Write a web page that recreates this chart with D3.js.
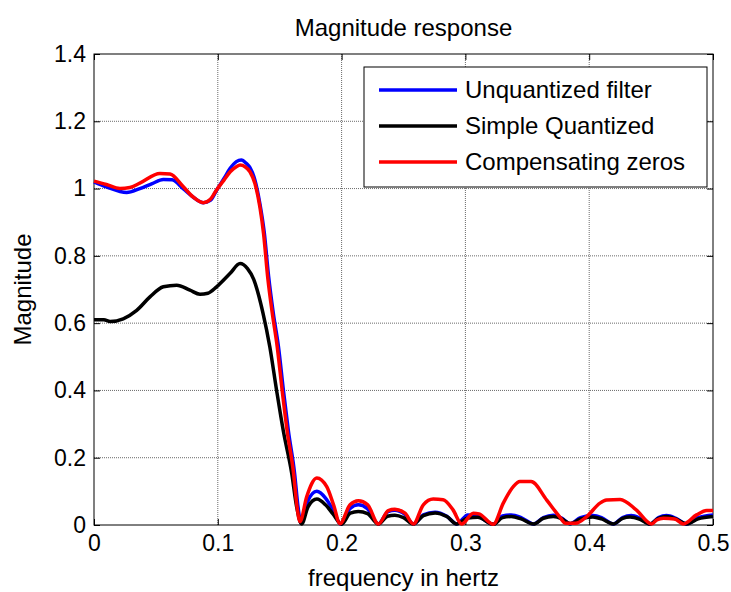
<!DOCTYPE html>
<html>
<head>
<meta charset="utf-8">
<title>Magnitude response</title>
<style>
  body { margin: 0; background: #fff; }
  svg { display: block; font-family: "Liberation Sans", Arial, sans-serif; }
  .grid line { stroke: #6a6a6a; stroke-width: 1; stroke-dasharray: 1,1; }
  .tick text { fill: #000; }
</style>
</head>
<body>
<svg id="chart" width="731" height="592"></svg>
<script src="https://cdn.jsdelivr.net/npm/d3@7"></script>
<script>
// frequency (Hz), magnitude
var unquantized = [
  [0,1.02],[0.01,1.005],[0.0264,0.988],[0.037,1.0],[0.047,1.015],[0.056,1.027],[0.063,1.026],
  [0.072,1.0],[0.08,0.975],[0.0883,0.958],[0.094,0.965],[0.099,0.995],[0.105,1.03],[0.11,1.06],
  [0.115,1.08],[0.119,1.085],[0.123,1.075],[0.126,1.062],[0.13,1.025],[0.134,0.955],[0.1375,0.87],
  [0.141,0.74],[0.1448,0.63],[0.149,0.53],[0.153,0.40],[0.157,0.28],[0.162,0.154],[0.1648,0.054],
  [0.1672,0.005],[0.1725,0.07],[0.18,0.1],[0.187,0.08],[0.193,0.045],[0.1995,0.002],[0.2065,0.048],
  [0.2135,0.06],[0.221,0.048],[0.2297,0.003],[0.2375,0.04],[0.243,0.044],[0.251,0.032],[0.258,0.003],
  [0.266,0.03],[0.2755,0.038],[0.285,0.026],[0.293,0.003],[0.302,0.03],[0.309,0.028],[0.3225,0.002],
  [0.33,0.027],[0.337,0.03],[0.345,0.022],[0.355,0.003],[0.363,0.022],[0.371,0.029],[0.378,0.02],
  [0.3845,0.004],[0.393,0.022],[0.403,0.028],[0.41,0.022],[0.4195,0.003],[0.427,0.022],[0.434,0.028],
  [0.441,0.02],[0.449,0.003],[0.456,0.022],[0.4625,0.028],[0.47,0.02],[0.4787,0.003],[0.488,0.022],
  [0.5,0.03]
];

var simpleQuantized = [
  [0,0.61],[0.008,0.61],[0.013,0.605],[0.0236,0.613],[0.0345,0.638],[0.0452,0.678],[0.056,0.708],
  [0.0668,0.713],[0.0775,0.698],[0.0856,0.686],[0.092,0.689],[0.099,0.708],[0.11,0.748],[0.118,0.777],
  [0.124,0.762],[0.129,0.73],[0.1365,0.63],[0.142,0.53],[0.1475,0.40],[0.1529,0.28],[0.1597,0.154],
  [0.1637,0.054],[0.1677,0.003],[0.173,0.055],[0.18,0.077],[0.187,0.06],[0.193,0.033],[0.2,0.002],
  [0.207,0.035],[0.2135,0.04],[0.221,0.034],[0.2297,0.003],[0.237,0.026],[0.243,0.029],[0.25,0.022],
  [0.258,0.003],[0.266,0.028],[0.2755,0.036],[0.285,0.025],[0.293,0.003],[0.302,0.021],[0.31,0.023],
  [0.3225,0.002],[0.33,0.022],[0.337,0.025],[0.345,0.018],[0.355,0.003],[0.363,0.02],[0.371,0.025],
  [0.378,0.018],[0.3845,0.004],[0.393,0.018],[0.403,0.024],[0.41,0.018],[0.4195,0.003],[0.427,0.02],
  [0.433,0.024],[0.441,0.017],[0.449,0.003],[0.456,0.02],[0.4625,0.025],[0.47,0.018],[0.4787,0.003],
  [0.488,0.018],[0.5,0.025]
];

var compensating = [
  [0,1.022],[0.01,1.012],[0.021,1.0],[0.029,1.003],[0.037,1.016],[0.0533,1.045],[0.0614,1.043],
  [0.072,1.006],[0.08,0.975],[0.0883,0.958],[0.094,0.968],[0.099,0.996],[0.105,1.025],[0.11,1.05],
  [0.115,1.065],[0.118,1.07],[0.122,1.065],[0.126,1.05],[0.13,1.015],[0.134,0.945],[0.137,0.865],
  [0.1405,0.73],[0.144,0.63],[0.148,0.53],[0.152,0.40],[0.156,0.28],[0.1612,0.154],[0.164,0.054],
  [0.1664,0.01],[0.1718,0.084],[0.18,0.14],[0.188,0.114],[0.1935,0.06],[0.1987,0.004],[0.2068,0.06],
  [0.2135,0.072],[0.2211,0.06],[0.2297,0.003],[0.2377,0.043],[0.243,0.047],[0.2512,0.035],[0.258,0.003],
  [0.266,0.06],[0.274,0.077],[0.282,0.075],[0.29,0.045],[0.297,0.003],[0.3064,0.035],[0.311,0.033],
  [0.3225,0.002],[0.3306,0.065],[0.3387,0.114],[0.344,0.129],[0.353,0.129],[0.3657,0.074],[0.376,0.025],
  [0.381,0.005],[0.389,0.005],[0.398,0.025],[0.4087,0.065],[0.414,0.074],[0.425,0.076],[0.438,0.045],
  [0.4505,0.003],[0.4545,0.015],[0.46,0.02],[0.469,0.018],[0.476,0.003],[0.4867,0.03],[0.495,0.043],
  [0.5,0.043]
];

var seriesNames = ["Unquantized filter", "Simple Quantized", "Compensating zeros"];
var seriesColors = ["#0000ff", "#000000", "#ff0000"];
var xTicks = [0, 0.1, 0.2, 0.3, 0.4, 0.5];
var yTicks = [0, 0.2, 0.4, 0.6, 0.8, 1, 1.2, 1.4];

var margin = {left: 94, right: 18, top: 54, bottom: 67};
var W = 731, H = 592;
var iw = W - margin.left - margin.right;
var ih = H - margin.top - margin.bottom;

var svg = d3.select("#chart");
var g = svg.append("g").attr("transform", "translate(" + margin.left + "," + margin.top + ")");

var x = d3.scaleLinear().domain([0, 0.5]).range([0, iw]);
var y = d3.scaleLinear().domain([0, 1.4]).range([ih, 0]);

// grid
g.append("g").attr("class", "grid")
  .selectAll("line.v").data(xTicks.slice(1, -1)).enter().append("line")
  .attr("x1", function(d) { return x(d); }).attr("x2", function(d) { return x(d); })
  .attr("y1", 0).attr("y2", ih);
g.append("g").attr("class", "grid")
  .selectAll("line.h").data(yTicks.slice(1, -1)).enter().append("line")
  .attr("y1", function(d) { return y(d); }).attr("y2", function(d) { return y(d); })
  .attr("x1", 0).attr("x2", iw);

var fmt = d3.format("~g");

g.append("g").attr("transform", "translate(0," + ih + ")")
  .call(d3.axisBottom(x).tickValues(xTicks).tickFormat(fmt).tickSizeInner(-6).tickSizeOuter(0).tickPadding(10));
g.append("g")
  .call(d3.axisLeft(y).tickValues(yTicks).tickFormat(fmt).tickSizeInner(-6).tickSizeOuter(0).tickPadding(8));
g.append("g")
  .call(d3.axisTop(x).tickValues(xTicks).tickFormat("").tickSizeInner(-6).tickSizeOuter(0));
g.append("g").attr("transform", "translate(" + iw + ",0)")
  .call(d3.axisRight(y).tickValues(yTicks).tickFormat("").tickSizeInner(-6).tickSizeOuter(0));

g.selectAll(".domain").remove();
g.selectAll(".tick line").attr("stroke", "#000");
g.selectAll(".tick text").attr("font-size", 23).attr("font-family", "Liberation Sans, Arial, sans-serif");

g.append("rect").attr("x", 0).attr("y", 0).attr("width", iw).attr("height", ih)
  .attr("fill", "none").attr("stroke", "#000").attr("stroke-width", 1);

// curves: blue first, then black, red on top
var line = d3.line()
  .x(function(d) { return x(d[0]); })
  .y(function(d) { return y(d[1]); })
  .curve(d3.curveMonotoneX);

[unquantized, simpleQuantized, compensating].forEach(function(data, i) {
  g.append("path").datum(data)
    .attr("d", line)
    .attr("fill", "none")
    .attr("stroke", seriesColors[i])
    .attr("stroke-width", 3.5)
    .attr("stroke-linejoin", "round");
});

// legend
var leg = svg.append("g").attr("transform", "translate(364,67)");
leg.append("rect").attr("width", 343).attr("height", 120)
  .attr("fill", "#fff").attr("stroke", "#000").attr("stroke-width", 1);
seriesNames.forEach(function(name, i) {
  var ly = 23 + i * 36;
  leg.append("line").attr("x1", 15).attr("x2", 93).attr("y1", ly).attr("y2", ly)
    .attr("stroke", seriesColors[i]).attr("stroke-width", 3.5);
  leg.append("text").attr("x", 101).attr("y", ly + 8).attr("font-size", 24).text(name);
});

// title and labels
svg.append("text").attr("x", margin.left + iw / 2).attr("y", 36)
  .attr("text-anchor", "middle").attr("font-size", 24).text("Magnitude response");
svg.append("text").attr("x", margin.left + iw / 2).attr("y", 586)
  .attr("text-anchor", "middle").attr("font-size", 24).text("frequency in hertz");
svg.append("text").attr("transform", "translate(31," + (margin.top + ih / 2) + ") rotate(-90)")
  .attr("text-anchor", "middle").attr("font-size", 24).text("Magnitude");
</script>
</body>
</html>
